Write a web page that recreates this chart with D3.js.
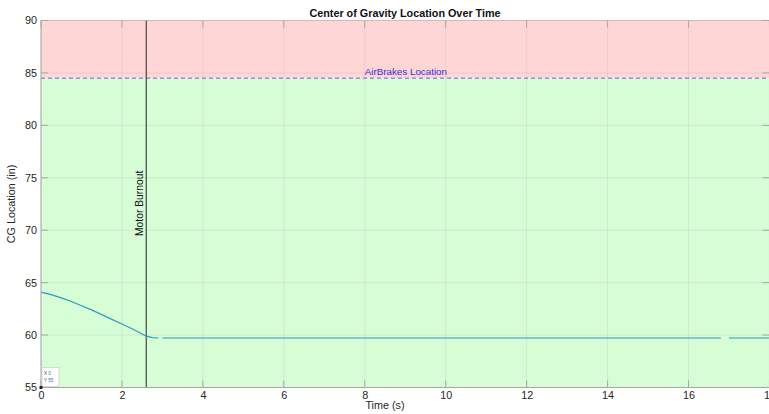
<!DOCTYPE html>
<html><head><meta charset="utf-8">
<script src="https://cdn.jsdelivr.net/npm/d3@7"></script>
<style>body{margin:0;background:#fff;overflow:hidden}svg{display:block;font-family:"Liberation Sans",Arial,sans-serif}</style>
</head><body><svg id="c" width="769" height="414"></svg>
<script>
const timeS = [0, 0.25, 0.5, 0.75, 1.0, 1.25, 1.5, 1.75, 2.0, 2.25, 2.5, 2.6, 2.75, 2.9, null, 3.0, 6, 10, 14, 16.8, null, 17.0, 18];
const cgIn  = [64.1, 63.85, 63.55, 63.2, 62.8, 62.4, 61.95, 61.5, 61.05, 60.6, 60.1, 59.9, 59.75, 59.72, null, 59.72, 59.72, 59.72, 59.72, 59.72, null, 59.72, 59.72];
const xTicks = [0, 2, 4, 6, 8, 10, 12, 14, 16, 18];
const yTicks = [55, 60, 65, 70, 75, 80, 85, 90];
const airBrakes = 84.5;
const burnout = 2.6;

const svg = d3.select("#c");
const x = d3.scaleLinear().domain([0, 18]).range([41, 41 + 18 * 40.47]);
const y = d3.scaleLinear().domain([55, 90]).range([387.5, 20.5]);
const x0 = x(0), x1 = x(18), yTop = y(90), yBot = y(55);

// regions
svg.append("rect").attr("x", x0).attr("y", yTop).attr("width", x1 - x0).attr("height", y(airBrakes) - yTop).attr("fill", "#ffd6d6");
svg.append("rect").attr("x", x0).attr("y", y(airBrakes)).attr("width", x1 - x0).attr("height", yBot - y(airBrakes)).attr("fill", "#d6fdd6");

// grid
const g = svg.append("g");
g.selectAll(".gx").data(xTicks).join("line").attr("x1", d => x(d)).attr("x2", d => x(d)).attr("y1", yTop).attr("y2", yBot)
  .attr("stroke", "#a0a0a0").attr("stroke-opacity", 0.18).attr("stroke-width", 1);
g.selectAll(".gy").data(yTicks).join("line").attr("x1", x0).attr("x2", x1).attr("y1", d => y(d)).attr("y2", d => y(d))
  .attr("stroke", "#a0a0a0").attr("stroke-opacity", 0.18).attr("stroke-width", 1);

// airbrakes line
svg.append("line").attr("x1", x0).attr("x2", x1).attr("y1", y(airBrakes)).attr("y2", y(airBrakes))
  .attr("stroke", "#6a5ce8").attr("stroke-width", 1).attr("stroke-dasharray", "4,3");
svg.append("text").attr("x", x(8)).attr("y", y(airBrakes) - 3).attr("font-size", 9.8).attr("fill", "#3b2fd6").text("AirBrakes Location");

// burnout
svg.append("line").attr("x1", x(burnout)).attr("x2", x(burnout)).attr("y1", yTop).attr("y2", yBot).attr("stroke", "#262626").attr("stroke-width", 1);
svg.append("text").attr("transform", `translate(${x(burnout) - 3},236) rotate(-90)`).attr("font-size", 10.3).attr("fill", "#111").text("Motor Burnout");

// data line
const pts = timeS.map((t, i) => ({t, v: cgIn[i]}));
svg.append("path").datum(pts).attr("fill", "none").attr("stroke", "#2b9cc2").attr("stroke-width", 1.2)
  .attr("d", d3.line().defined(d => d.t !== null && d.v !== null).x(d => x(d.t)).y(d => y(d.v)));

// axes box
const axC = "#a6a6a6";
svg.append("line").attr("x1", x0).attr("x2", x0).attr("y1", yTop).attr("y2", yBot).attr("stroke", axC);
svg.append("line").attr("x1", x0).attr("x2", x1).attr("y1", yBot).attr("y2", yBot).attr("stroke", axC);
svg.append("line").attr("x1", x0).attr("x2", x1).attr("y1", yTop).attr("y2", yTop).attr("stroke", "#c8a0a0").attr("stroke-opacity", 0.6);

const xAxis = d3.axisBottom(x).tickValues(xTicks).tickSize(0).tickPadding(4).tickFormat(d3.format("d"));
const gx = svg.append("g").attr("transform", `translate(0,${yBot})`).call(xAxis);
gx.select(".domain").remove();
gx.selectAll("text").attr("font-size", 10.8).attr("fill", "#262626").attr("font-family", "Liberation Sans, Arial, sans-serif");
const yAxis = d3.axisLeft(y).tickValues(yTicks).tickSize(0).tickPadding(4);
const gy = svg.append("g").attr("transform", `translate(${x0},0)`).call(yAxis);
gy.select(".domain").remove();
gy.selectAll("text").attr("font-size", 10.8).attr("fill", "#262626").attr("font-family", "Liberation Sans, Arial, sans-serif");

// inward tick marks
const tk = svg.append("g").attr("stroke", "#a6a6a6").attr("stroke-width", 1);
xTicks.forEach(d => {
  tk.append("line").attr("x1", x(d)).attr("x2", x(d)).attr("y1", yBot).attr("y2", yBot - 7);
  tk.append("line").attr("x1", x(d)).attr("x2", x(d)).attr("y1", yTop).attr("y2", yTop + 7);
});
yTicks.forEach(d => {
  tk.append("line").attr("x1", x0).attr("x2", x0 + 7).attr("y1", y(d)).attr("y2", y(d));
  tk.append("line").attr("x1", x1 - 7).attr("x2", x1).attr("y1", y(d)).attr("y2", y(d));
});

// labels
svg.append("text").attr("x", 405).attr("y", 17).attr("text-anchor", "middle").attr("font-size", 10.8).attr("font-weight", "bold").attr("fill", "#111").text("Center of Gravity Location Over Time");
svg.append("text").attr("x", 385).attr("y", 409).attr("text-anchor", "middle").attr("font-size", 10.8).attr("fill", "#262626").text("Time (s)");
svg.append("text").attr("transform", `translate(15,${y(72.5)}) rotate(-90)`).attr("text-anchor", "middle").attr("font-size", 10.8).attr("fill", "#262626").text("CG Location (in)");

// data tip
const dt = svg.append("g");
dt.append("rect").attr("x", x0 + 1).attr("y", yBot - 20).attr("width", 17).attr("height", 19).attr("fill", "#fff").attr("stroke", "#cccccc").attr("stroke-width", 0.7);
dt.append("text").attr("x", x0 + 3).attr("y", yBot - 13).attr("font-size", 4.5).attr("fill", "#444").text("X ").append("tspan").attr("fill", "#2a6fd0").text("0");
dt.append("text").attr("x", x0 + 3).attr("y", yBot - 6).attr("font-size", 4.5).attr("fill", "#444").text("Y ").append("tspan").attr("fill", "#2a6fd0").text("55");
dt.append("rect").attr("x", x0 - 1.5).attr("y", yBot - 1.5).attr("width", 3).attr("height", 3).attr("fill", "#222");
</script></body></html>
